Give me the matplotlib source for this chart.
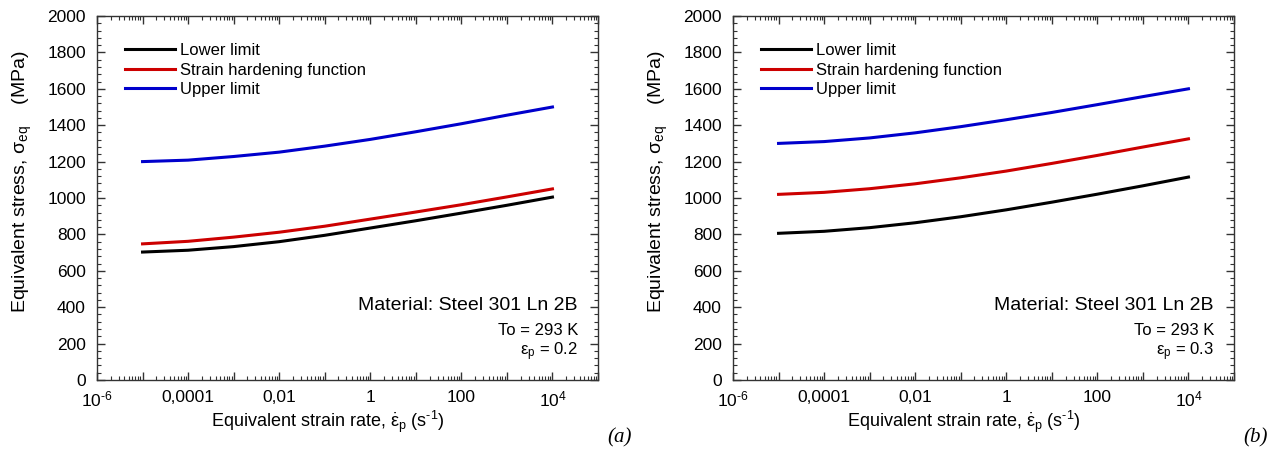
import numpy as np
import matplotlib
matplotlib.use("Agg")
import matplotlib.pyplot as plt
from matplotlib.ticker import FixedLocator, LogLocator, MultipleLocator, FuncFormatter

plt.rcParams['font.family'] = ['Liberation Sans', 'DejaVu Sans']
plt.rcParams['mathtext.fontset'] = 'custom'
plt.rcParams['mathtext.rm'] = 'Liberation Sans'
plt.rcParams['mathtext.it'] = 'Liberation Sans:italic'

# strain rates (s^-1), one point per decade
strain_rate = [1e-5, 1e-4, 1e-3, 1e-2, 1e-1, 1, 10, 100, 1e3, 1e4]

# (a) eps_p = 0.2
lower_a = [703, 713, 733, 760, 795, 835, 875, 917, 960, 1005]
hard_a = [748, 762, 785, 812, 845, 884, 923, 963, 1006, 1050]
upper_a = [1200, 1208, 1228, 1252, 1285, 1322, 1364, 1408, 1455, 1500]

# (b) eps_p = 0.3
lower_b = [806, 817, 837, 864, 897, 935, 977, 1021, 1067, 1115]
hard_b = [1020, 1031, 1051, 1078, 1111, 1148, 1190, 1234, 1280, 1325]
upper_b = [1300, 1310, 1330, 1358, 1392, 1430, 1470, 1513, 1557, 1600]

eps_labels = ["0.2", "0.3"]
panel_tags = ["(a)", "(b)"]


def xfmt(v, pos):
    e = int(round(np.log10(v)))
    if e % 2:
        return ""
    if e == -6:
        return r"10$^{\text{-6}}$"
    if e == 4:
        return r"10$^{4}$"
    return {-4: "0,0001", -2: "0,01", 0: "1", 2: "100"}[e]


fig = plt.figure(figsize=(12.84, 4.59), dpi=100)
lefts = [97 / 1284, 733 / 1284]
w = 501 / 1284
b = 1 - 380 / 459
h = 364 / 459

data = [(lower_a, hard_a, upper_a), (lower_b, hard_b, upper_b)]

for i in range(2):
    ax = fig.add_axes([lefts[i], b, w, h])
    lo, hd, up = data[i]
    ax.plot(strain_rate, lo, color='black', lw=2.2, label='Lower limit')
    ax.plot(strain_rate, hd, color='#CC0000', lw=2.2, label='Strain hardening function')
    ax.plot(strain_rate, up, color='#0000CC', lw=2.2, label='Upper limit')
    ax.set_xscale('log')
    ax.set_xlim(1e-6, 1e5)
    ax.set_ylim(0, 2000)
    ax.xaxis.set_major_locator(FixedLocator([10.0 ** k for k in range(-6, 6)]))
    ax.xaxis.set_major_formatter(FuncFormatter(xfmt))
    ax.xaxis.set_minor_locator(LogLocator(base=10, subs=np.arange(2, 10), numticks=30))
    ax.xaxis.set_minor_formatter(FuncFormatter(lambda v, p: ""))
    ax.yaxis.set_major_locator(MultipleLocator(200))
    ax.yaxis.set_minor_locator(MultipleLocator(40))
    ax.tick_params(which='both', direction='in', top=True, right=True, labelsize=12.5, color='#333333')
    ax.tick_params(which='major', length=6, width=1)
    ax.tick_params(which='minor', length=3, width=0.8)
    ax.tick_params(axis='x', pad=7)
    ax.tick_params(axis='y', pad=8)
    for s in ax.spines.values():
        s.set_linewidth(1.0)
        s.set_color('#333333')

    ax.set_xlabel(r"Equivalent strain rate, $\dot{\mathrm{\varepsilon}}_{\mathrm{p}}$ (s$^{\text{-1}}$)", fontsize=13)
    ax.xaxis.set_label_coords(0.46, -0.08)
    ax.set_ylabel(r"Equivalent stress, $\mathrm{\sigma}_{\mathrm{eq}}$    (MPa)", fontsize=14)
    ax.yaxis.set_label_coords(-0.126, 0.545)

    ax.legend(loc='upper left', bbox_to_anchor=(0.056, 0.925), frameon=False, fontsize=12,
              handlelength=3.0, handletextpad=0.3, labelspacing=0.26, borderaxespad=0, borderpad=0)

    ax.text(0.96, 0.205, "Material: Steel 301 Ln 2B", transform=ax.transAxes, ha='right', va='center', fontsize=14)
    ax.text(0.96, 0.135, "To = 293 K", transform=ax.transAxes, ha='right', va='center', fontsize=12)
    ax.text(0.96, 0.078, r"$\mathrm{\varepsilon}_{\mathrm{p}}$ = " + eps_labels[i], transform=ax.transAxes,
            ha='right', va='center', fontsize=12)

fig.text(620 / 1284, 1 - 438 / 459, panel_tags[0], family='Liberation Serif', style='italic', fontsize=15, ha='center', va='center')
fig.text(1256 / 1284, 1 - 438 / 459, panel_tags[1], family='Liberation Serif', style='italic', fontsize=15, ha='center', va='center')

fig.savefig("out.png", dpi=100)
